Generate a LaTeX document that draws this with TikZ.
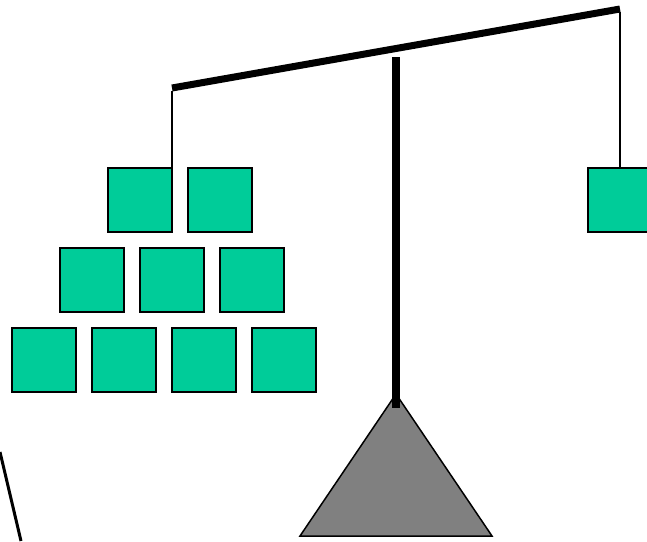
\documentclass[tikz,border=0pt]{standalone}
\begin{document}
\begin{tikzpicture}[x=1pt,y=-1pt,
  weight/.style={draw=black,line width=1.5pt,fill=wcol,minimum width=64pt,minimum height=64pt,inner sep=0pt,outer sep=0pt,anchor=north west},
  cord/.style={draw=black,line width=2pt},
  beam/.style={draw=black,line width=7pt,line cap=butt}]
\definecolor{wcol}{HTML}{00CC99}
\useasboundingbox (0,0) rectangle (647,541);
% base of the balance
\filldraw[fill=gray!100!white,fill=black!50,draw=black,line width=1.5pt,line join=miter]
  (396,394) -- (492,536) -- (300,536) -- cycle;
% post
\draw[black,line width=8pt,line cap=butt] (396,57) -- (396,408);
% beam
\coordinate (bl) at (172,88);
\coordinate (br) at (620,9);
\draw[beam] (bl) -- (br);
% weights on the left pan
\node[weight] (a1) at (108,168) {};
\node[weight] (a2) at (188,168) {};
\node[weight] (b1) at (60,248) {};
\node[weight] (b2) at (140,248) {};
\node[weight] (b3) at (220,248) {};
\node[weight] (c1) at (12,328) {};
\node[weight] (c2) at (92,328) {};
\node[weight] (c3) at (172,328) {};
\node[weight] (c4) at (252,328) {};
% weight on the right
\node[weight] (r1) at (588,168) {};
% cords
\draw[cord] ([yshift=-3pt]bl) -- (a1.north east);
\draw[cord] ([yshift=-3pt]br) -- (620,168);
% stray stroke at the lower left
\draw[black,line width=3pt] (0,452) -- (21,541);
\end{tikzpicture}
\end{document}
